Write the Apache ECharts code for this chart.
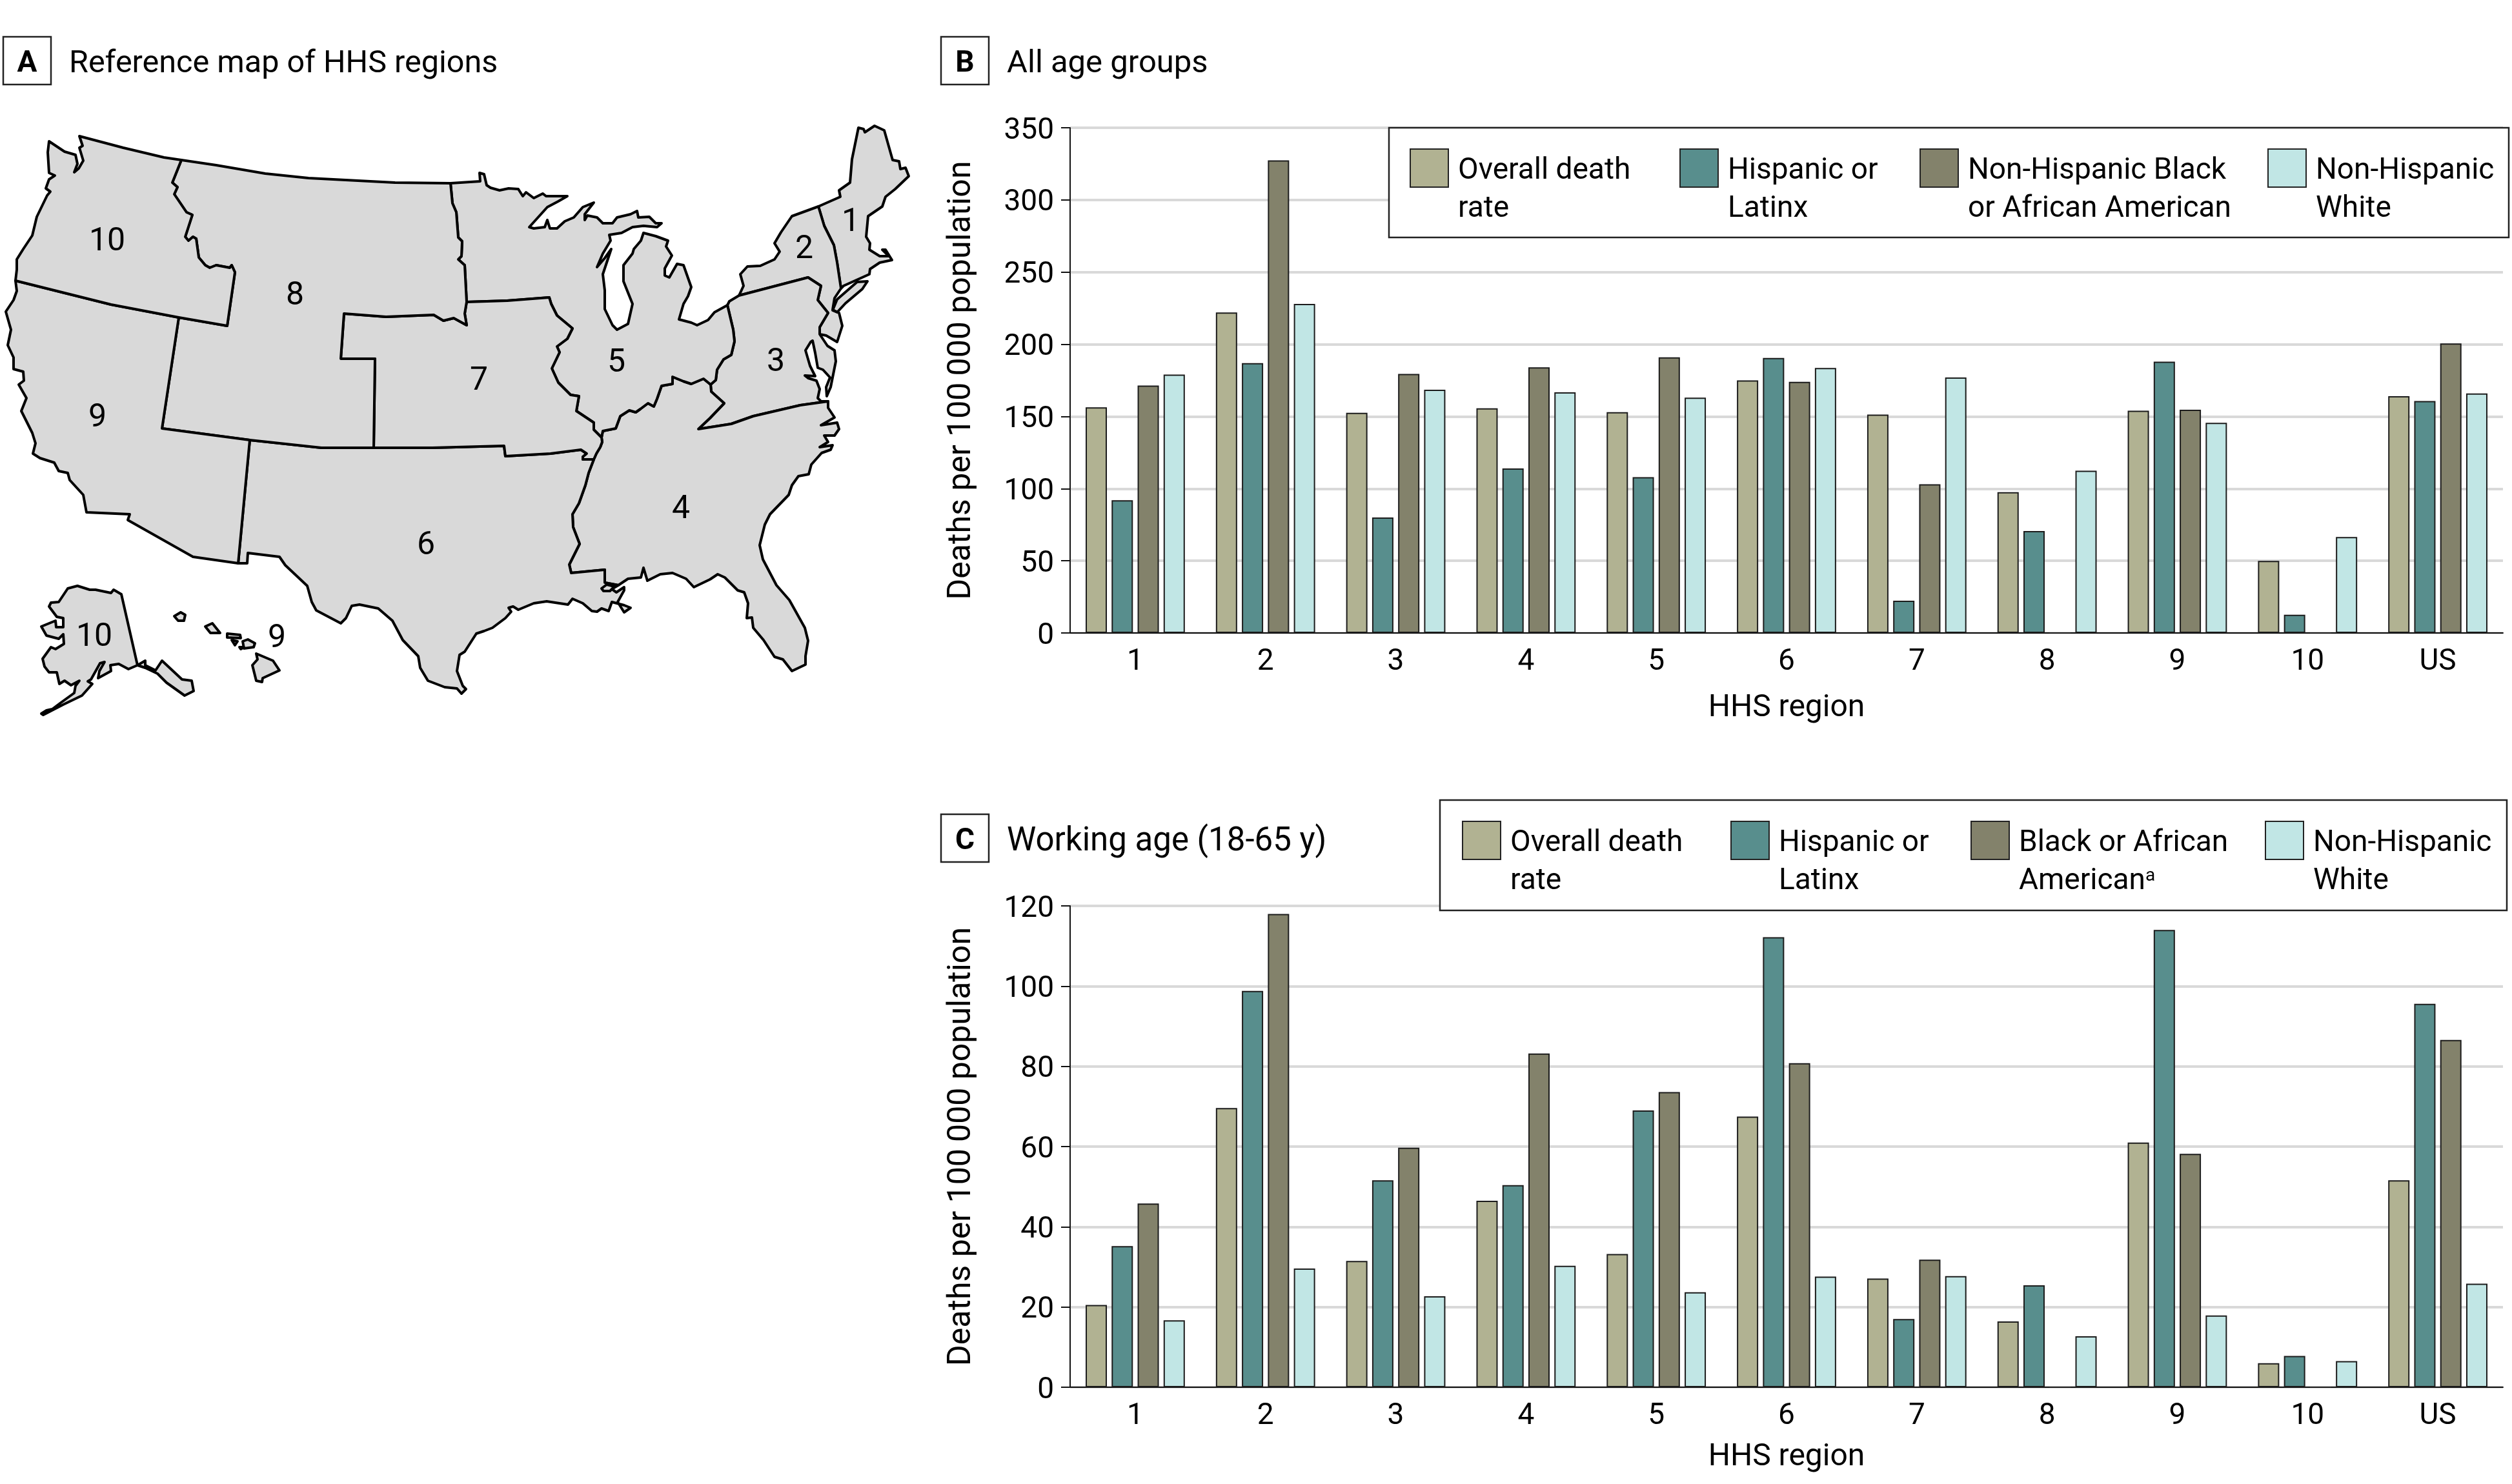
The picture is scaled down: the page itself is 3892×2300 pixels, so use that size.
<!DOCTYPE html>
<html>
<head>
<meta charset="utf-8">
<title>HHS region death rates</title>
<script src="https://cdn.jsdelivr.net/npm/echarts@6/dist/echarts.min.js"></script>
<style>
  html, body { margin: 0; padding: 0; background: #fff; }
  #chart { width: 3892px; height: 2300px; }
</style>
</head>
<body>
<div id="chart"></div>
<script>
// chart data
const regions = ['1', '2', '3', '4', '5', '6', '7', '8', '9', '10', 'US'];

const allOverall = [156.3, 222, 152.5, 155.7, 153, 175, 151.3, 97.6, 154, 50, 164];
const allHispanic = [92, 187, 80, 114, 108, 190.5, 22.3, 70.6, 188, 12.6, 160.7];
const allBlack = [171.4, 327.4, 179.5, 184, 191, 174, 103, 0, 154.7, 0, 200.6];
const allWhite = [179, 228, 168.5, 166.7, 163, 183.6, 177, 112.4, 145.6, 66.5, 166];

const workOverall = [20.5, 69.6, 31.5, 46.5, 33.2, 67.5, 27.1, 16.4, 61, 6, 51.6];
const workHispanic = [35.2, 98.8, 51.6, 50.4, 69, 112.2, 17, 25.4, 114, 7.8, 95.6];
const workBlack = [45.8, 118, 59.7, 83.2, 73.6, 80.8, 31.8, 0, 58.2, 0, 86.6];
const workWhite = [16.7, 29.6, 22.7, 30.3, 23.7, 27.6, 27.7, 12.7, 17.9, 6.5, 25.8];

const barColors = ['#b1b292', '#588e8d', '#83826b', '#c1e6e5'];

// map outlines, shared borders kept as arcs
const pacific10 = [[123,211],[128,226],[123,229],[129,249],[122,261],[115,267],[120,254],[117,240],[100,235],[76,219],[74,236],[76,268],[85,272],[76,278],[71,292],[78,297],[73,303],[57,336],[50,365],[36,386],[26,402],[26,418],[24,435]];
const north10 = [[123,211],[191,229],[254,244],[281,248]];
const north8 = [[281,248],[335,256],[411,269],[478,276],[612,283],[698,284]];
const b10_8 = [[281,248],[267,283],[275,290],[270,301],[289,329],[298,333],[287,367],[292,373],[299,367],[304,370],[308,399],[318,411],[325,415],[335,411],[356,415],[359,411],[364,422],[352,505],[277,492]];
const b10_9 = [[24,435],[172,472],[277,492]];
const b8_9 = [[277,492],[251,664],[387,682]];
const b8_6 = [[387,682],[498,694],[579,694]];
const b8_7 = [[579,694],[581,556],[528,556],[533,486],[598,491],[672,488],[687,497],[703,493],[723,504],[720,486],[723,468]];
const b5_8 = [[698,284],[701,315],[707,329],[710,368],[716,374],[715,397],[710,402],[720,411],[723,468]];
const b5_7 = [[723,468],[786,466],[851,461],[854,471],[863,489],[887,509],[879,525],[863,537],[867,546],[855,571],[865,593],[884,612],[897,614],[893,637],[920,655],[920,666],[932,678]];
const b7_4 = [[932,678],[933,685],[930,693],[924,703],[920,712]];
const b7_6 = [[920,712],[903,712],[903,708],[909,703],[900,697],[853,703],[783,707],[781,691],[670,694],[579,694]];
const b4_6 = [[920,712],[912,733],[907,752],[897,780],[887,797],[888,817],[898,843],[882,875],[885,888],[937,883],[937,903],[958,907]];
const b9_6 = [[387,682],[369,873]];
const pacific9 = [[24,435],[26,451],[21,465],[9,483],[17,511],[12,535],[21,554],[21,572],[36,576],[37,590],[29,596],[41,617],[33,637],[50,671],[55,687],[51,703],[62,710],[84,717],[91,730],[105,733],[108,744],[129,767],[134,794],[201,797],[198,806],[299,863],[369,873]];
const gulf6 = [[369,873],[383,873],[384,857],[433,863],[442,876],[476,908],[483,933],[490,946],[528,966],[536,958],[545,939],[557,937],[586,943],[608,962],[624,992],[648,1017],[651,1035],[663,1055],[689,1065],[708,1067],[715,1075],[722,1068],[717,1063],[708,1040],[712,1015],[720,1010],[738,982],[750,978],[763,973],[783,958],[792,948],[788,942],[795,940],[803,945],[827,935],[847,932],[880,937],[887,928],[903,935],[917,947],[925,948],[932,943],[943,947],[948,933],[967,938],[977,942],[967,949],[957,933],[967,915],[967,910],[955,918],[948,913],[958,907]];
const pontchartrain = [[932,912],[940,906],[952,909],[945,916],[935,916]];
const gulf4 = [[958,907],[973,897],[993,895],[997,880],[1003,900],[1023,890],[1042,888],[1063,897],[1075,910],[1100,898],[1112,890],[1123,895],[1143,915],[1153,918],[1159,935],[1157,958],[1165,957],[1167,973],[1183,992],[1200,1018],[1213,1022],[1227,1040],[1248,1030],[1248,1017],[1252,993],[1247,973],[1223,930],[1203,907],[1182,867],[1177,845],[1185,813],[1193,797],[1222,767],[1227,752],[1237,738],[1253,735],[1257,720],[1273,702],[1287,697],[1290,690],[1270,693],[1283,685],[1277,675],[1293,675],[1300,665],[1297,655],[1285,657],[1272,659],[1293,647],[1283,632],[1283,622]];
const b3_4 = [[1283,622],[1240,628],[1167,645],[1133,657],[1082,665],[1100,648],[1122,625],[1102,607],[1101,596]];
const b5_4 = [[1101,596],[1090,587],[1071,595],[1059,591],[1042,584],[1042,595],[1025,598],[1018,618],[1013,630],[1004,625],[992,634],[985,639],[975,636],[961,645],[954,664],[934,668],[932,678]];
const b5_3 = [[1127,473],[1136,511],[1138,529],[1133,550],[1121,557],[1111,573],[1109,589],[1101,596]];
const north5 = [[698,284],[744,281],[743,268],[750,270],[754,287],[760,291],[774,295],[788,292],[803,293],[810,304],[815,298],[827,307],[841,300],[846,304],[863,304],[879,304],[865,312],[848,321],[820,352],[827,354],[844,352],[848,341],[852,354],[863,354],[875,343],[889,337],[903,321],[920,314],[906,332],[906,341],[910,334],[925,337],[934,346],[949,346],[956,337],[977,332],[987,327],[989,337],[1006,336],[1016,346],[1025,346],[1018,352],[997,350],[980,352],[963,361],[944,364],[946,373],[934,393],[925,414],[937,400],[947,386],[934,425],[937,450],[937,479],[949,504],[956,511],[973,502],[980,471],[966,436],[966,411],[980,393],[982,386],[993,373],[997,361],[1016,366],[1035,373],[1032,382],[1041,396],[1030,416],[1030,427],[1037,430],[1049,409],[1059,411],[1071,445],[1066,459],[1059,471],[1052,495],[1071,500],[1080,504],[1097,496],[1107,484],[1127,473]];
const erie3 = [[1127,473],[1130,467],[1145,458]];
const b2_3 = [[1145,458],[1252,430],[1272,443],[1267,465],[1283,485],[1270,507],[1270,518]];
const coast3 = [[1270,518],[1282,536],[1293,543],[1295,560],[1287,600],[1281,614],[1280,600],[1286,585],[1275,573],[1267,570],[1263,547],[1259,528],[1256,530],[1248,543],[1255,567],[1263,583],[1247,582],[1252,586],[1265,590],[1270,603],[1267,617],[1272,622],[1283,622]];
const lake2 = [[1145,458],[1152,443],[1147,425],[1158,413],[1178,412],[1200,402],[1208,390],[1200,377],[1210,360],[1227,335],[1268,320]];
const b1_2 = [[1268,320],[1277,350],[1292,380],[1297,407],[1303,447]];
const coast2 = [[1303,447],[1293,462],[1290,480],[1300,485],[1305,505],[1297,530],[1280,520],[1270,518]];
const longIsland = [[1290,481],[1297,464],[1328,437],[1344,436],[1336,448],[1310,470],[1297,484]];
const north1 = [[1268,320],[1302,305],[1300,295],[1317,283],[1320,247],[1330,198],[1338,200],[1340,205],[1355,195],[1370,202],[1383,248],[1393,250],[1395,262],[1403,260],[1408,273],[1387,293],[1372,305],[1367,320],[1345,335],[1342,367],[1348,377],[1347,387],[1363,397],[1377,397],[1367,387],[1372,387],[1382,403],[1363,407],[1348,417],[1347,425],[1307,443],[1303,447]];
const alaska = [[120,908],[139,914],[148,914],[172,919],[176,914],[188,921],[213,1031],[225,1024],[225,1031],[241,1039],[251,1024],[282,1053],[297,1055],[300,1071],[286,1078],[258,1058],[244,1044],[225,1035],[213,1031],[199,1037],[184,1029],[171,1031],[172,1040],[152,1051],[154,1040],[162,1026],[155,1028],[141,1053],[136,1056],[143,1060],[127,1078],[98,1092],[67,1108],[64,1106],[72,1101],[81,1099],[93,1090],[115,1074],[117,1063],[123,1055],[110,1062],[100,1055],[92,1060],[88,1042],[76,1042],[69,1033],[66,1021],[79,1003],[86,1006],[99,998],[98,983],[91,990],[72,985],[64,971],[86,962],[87,972],[98,972],[98,958],[88,956],[76,940],[79,934],[91,933],[105,912]];
const kauai = [[270,955],[280,949],[287,953],[285,962],[276,962]];
const oahu = [[318,971],[329,966],[341,981],[326,981]];
const molokai = [[352,982],[372,984],[373,989],[352,988]];
const lanai = [[359,992],[368,994],[364,1000]];
const kahoolawe = [[371,1003],[378,1003],[373,1006]];
const maui = [[376,994],[384,991],[395,997],[393,1003],[378,1005]];
const bigIsland = [[397,1013],[423,1024],[433,1039],[407,1051],[406,1057],[397,1055],[391,1031],[399,1022]];

const mapLabels = [
  { name: '1', value: [1318, 345] },
  { name: '2', value: [1246, 387] },
  { name: '3', value: [1202, 562] },
  { name: '4', value: [1055, 790] },
  { name: '5', value: [955, 563] },
  { name: '6', value: [660, 846] },
  { name: '7', value: [742, 591] },
  { name: '8', value: [457, 459] },
  { name: '9', value: [151, 648] },
  { name: '10', value: [166, 375] },
  { name: '10', value: [146, 988] },
  { name: '9', value: [429, 990] }
];

const fontName = 'Roboto';

function rev(arc) {
  return arc.slice().reverse();
}

function ring() {
  let out = [];
  for (let i = 0; i < arguments.length; i++) {
    out = out.concat(arguments[i]);
  }
  return out;
}

function feature(name, rings) {
  return {
    type: 'Feature',
    properties: { name: name },
    geometry: { type: 'MultiPolygon', coordinates: rings.map(r => [r]) }
  };
}

const hhsMap = {
  type: 'FeatureCollection',
  features: [
    feature('R1', [ring(north1, rev(b1_2))]),
    feature('R2', [ring(lake2, b1_2, coast2, rev(b2_3)), longIsland]),
    feature('R3', [ring(erie3, b2_3, coast3, b3_4, rev(b5_3))]),
    feature('R4', [ring(rev(b4_6), rev(b7_4), rev(b5_4), rev(b3_4), rev(gulf4))]),
    feature('R5', [ring(north5, b5_3, b5_4, rev(b5_7), rev(b5_8))]),
    feature('R6', [ring(b8_6, rev(b7_6), b4_6, rev(gulf6), rev(b9_6)), pontchartrain]),
    feature('R7', [ring(b5_7, b7_4, b7_6, b8_7)]),
    feature('R8', [ring(north8, b5_8, rev(b8_7), rev(b8_6), rev(b8_9), rev(b10_8))]),
    feature('R9', [ring(pacific9, rev(b9_6), rev(b8_9), rev(b10_9)), kauai, oahu, molokai, lanai, kahoolawe, maui, bigIsland]),
    feature('R10', [ring(north10, b10_8, rev(b10_9), rev(pacific10)), alaska])
  ]
};

// the traced outlines are already in picture units, y pointing down
let minX = Infinity, minY = Infinity, maxX = -Infinity, maxY = -Infinity;
hhsMap.features.forEach(f => {
  f.geometry.coordinates.forEach(poly => {
    poly[0].forEach(p => {
      minX = Math.min(minX, p[0]);
      maxX = Math.max(maxX, p[0]);
      minY = Math.min(minY, p[1]);
      maxY = Math.max(maxY, p[1]);
    });
  });
});

echarts.registerMap('hhs', hhsMap);

function barSeries(name, data, colorIdx, axisIdx) {
  return {
    name: name,
    type: 'bar',
    xAxisIndex: axisIdx,
    yAxisIndex: axisIdx,
    data: data,
    barWidth: 33,
    barGap: '22%',
    silent: true,
    animation: false,
    itemStyle: { color: barColors[colorIdx], borderColor: '#1c1c1c', borderWidth: 2 }
  };
}

function xAxisOf(gridIdx, gap) {
  return {
    type: 'category',
    gridIndex: gridIdx,
    data: regions,
    name: 'HHS region',
    nameLocation: 'middle',
    nameGap: gap,
    nameTextStyle: { fontFamily: fontName, fontSize: 48, color: '#000' },
    axisTick: { show: false },
    axisLine: { lineStyle: { color: '#111', width: 2 } },
    axisLabel: { fontFamily: fontName, fontSize: 46, color: '#000', margin: 22, interval: 0 }
  };
}

function yAxisOf(gridIdx, max, step) {
  return {
    type: 'value',
    gridIndex: gridIdx,
    min: 0,
    max: max,
    interval: step,
    name: 'Deaths per 100\u2009000 population',
    nameLocation: 'middle',
    nameGap: 143,
    nameTextStyle: { fontFamily: fontName, fontSize: 50, color: '#000' },
    axisLine: { show: true, lineStyle: { color: '#111', width: 2 } },
    axisTick: { show: true, length: 14, lineStyle: { color: '#111', width: 2 } },
    axisLabel: {
      margin: 25,
      formatter: v => '{n|' + v + '}',
      rich: {
        // nudges the digits down onto the tick
        n: { fontFamily: fontName, fontSize: 46, color: '#000', padding: [10, 0, 0, 0] }
      }
    },
    splitLine: { show: true, lineStyle: { color: '#d9d9d9', width: 4 } }
  };
}

function legendItem(name, left, top, text) {
  return {
    data: [name],
    left: left,
    top: top,
    orient: 'horizontal',
    padding: 0,
    z: 10,
    selectedMode: false,
    icon: 'rect',
    itemWidth: 59,
    itemHeight: 59,
    itemStyle: { borderColor: '#222', borderWidth: 2 },
    formatter: () => '\n' + text,
    textStyle: {
      fontFamily: fontName,
      fontSize: 46,
      lineHeight: 59,
      color: '#000',
      padding: [10, 0, 0, 10],
      rich: {
        sup: { fontFamily: fontName, fontSize: 28, lineHeight: 59, color: '#000', padding: [0, 0, 18, 0] }
      }
    }
  };
}

function panelTag(letter, x, y, title, titleSize) {
  return [
    {
      type: 'rect',
      z: 3,
      shape: { x: x, y: y, width: 74, height: 74 },
      style: { fill: '#fff', stroke: '#222', lineWidth: 2.5 }
    },
    {
      type: 'text',
      z: 3,
      x: x + 37,
      y: y + 42,
      style: { text: letter, fontFamily: fontName, fontWeight: 'bold', fontSize: 46, fill: '#000', align: 'center', verticalAlign: 'middle' }
    },
    {
      type: 'text',
      z: 3,
      x: x + 102,
      y: y + 43,
      style: { text: title, fontFamily: fontName, fontSize: titleSize, fill: '#000', align: 'left', verticalAlign: 'middle' }
    }
  ];
}

function legendBox(x, y, w, h) {
  return {
    type: 'rect',
    z: 3,
    shape: { x: x, y: y, width: w, height: h },
    style: { fill: '#fff', stroke: '#222', lineWidth: 2.5 }
  };
}

const nameOverall = 'Overall death rate';
const nameHispanic = 'Hispanic or Latinx';
const nameBlackAll = 'Non-Hispanic Black or African American';
const nameBlackWork = 'Black or African American';
const nameWhite = 'Non-Hispanic White';

let myChart = echarts.init(document.getElementById('chart'), null, { renderer: 'canvas' });

let option = {
  animation: false,
  backgroundColor: '#fff',
  grid: [
    { left: 1658, top: 198, width: 2220, height: 783 },
    { left: 1658, top: 1404, width: 2220, height: 746 }
  ],
  xAxis: [xAxisOf(0, 93), xAxisOf(1, 85)],
  yAxis: [yAxisOf(0, 350, 50), yAxisOf(1, 120, 20)],
  geo: {
    map: 'hhs',
    roam: false,
    silent: true,
    aspectScale: 1,
    projection: {
      project: p => [p[0], p[1]],
      unproject: p => [p[0], p[1]]
    },
    left: minX,
    top: minY,
    width: maxX - minX,
    height: maxY - minY,
    label: { show: false },
    itemStyle: { areaColor: '#d9d9d9', borderColor: '#000', borderWidth: 4, borderJoin: 'round' }
  },
  legend: [
    legendItem(nameOverall, 2184, 167, 'Overall death\nrate'),
    legendItem(nameHispanic, 2602, 167, 'Hispanic or\nLatinx'),
    legendItem(nameBlackAll, 2974, 167, 'Non-Hispanic Black\nor African American'),
    legendItem(nameWhite, 3513, 167, 'Non-Hispanic\nWhite'),
    legendItem(nameOverall, 2265, 1209, 'Overall death\nrate'),
    legendItem(nameHispanic, 2681, 1209, 'Hispanic or\nLatinx'),
    legendItem(nameBlackWork, 3053, 1209, 'Black or African\nAmerican{sup|a}'),
    legendItem(nameWhite, 3509, 1209, 'Non-Hispanic\nWhite')
  ],
  graphic: {
    elements: [].concat(
      panelTag('A', 5, 57, 'Reference map of HHS regions', 48.5),
      panelTag('B', 1458, 57, 'All age groups', 49),
      panelTag('C', 1458, 1262, 'Working age (18-65 y)', 51),
      [legendBox(2152, 198, 1735, 170), legendBox(2231, 1240, 1653, 171)]
    )
  },
  series: [
    barSeries(nameOverall, allOverall, 0, 0),
    barSeries(nameHispanic, allHispanic, 1, 0),
    barSeries(nameBlackAll, allBlack, 2, 0),
    barSeries(nameWhite, allWhite, 3, 0),
    barSeries(nameOverall, workOverall, 0, 1),
    barSeries(nameHispanic, workHispanic, 1, 1),
    barSeries(nameBlackWork, workBlack, 2, 1),
    barSeries(nameWhite, workWhite, 3, 1),
    {
      type: 'scatter',
      coordinateSystem: 'geo',
      silent: true,
      symbolSize: 0,
      itemStyle: { color: '#000', opacity: 1 },
      label: {
        show: true,
        position: 'inside',
        formatter: '{b}',
        fontFamily: fontName,
        fontSize: 50,
        color: '#000'
      },
      data: mapLabels
    }
  ]
};

myChart.setOption(option);
</script>
</body>
</html>
